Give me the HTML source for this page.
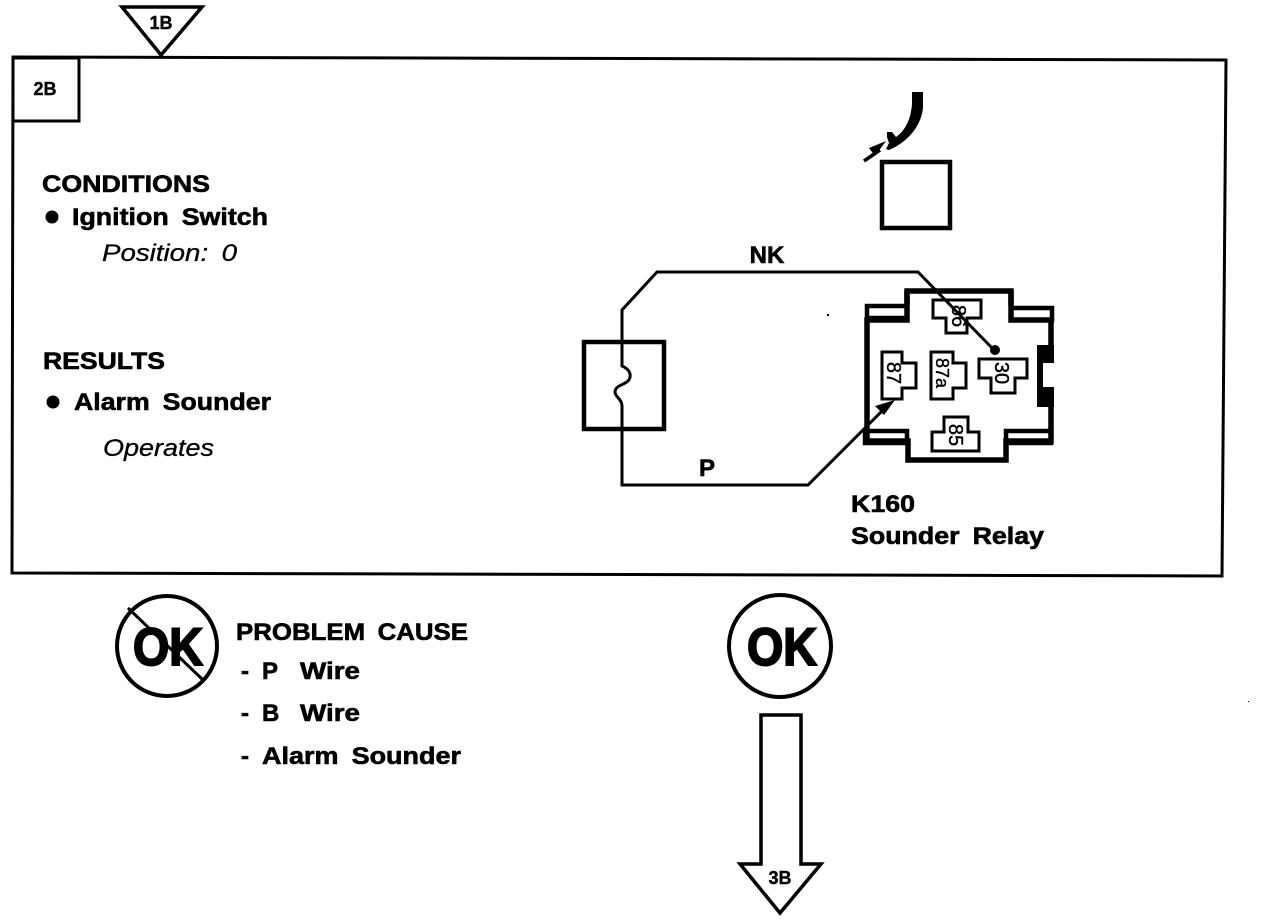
<!DOCTYPE html>
<html><head><meta charset="utf-8"><style>
html,body{margin:0;padding:0;background:#fff;width:1264px;height:922px;overflow:hidden}
svg{display:block}
text{font-family:"Liberation Sans",sans-serif;font-weight:bold;fill:#000}
.t{font-size:24px;stroke:#000;stroke-width:.6px;word-spacing:5px}
.i{font-style:italic;font-weight:normal;font-size:24px;stroke:#000;stroke-width:.3px;word-spacing:5px}
.n{font-weight:normal;font-size:20px;stroke:#000;stroke-width:.4px;text-anchor:middle;dominant-baseline:central}
.s{font-size:18px;text-anchor:middle;stroke:#000;stroke-width:.4px}
.o{font-size:53px;text-anchor:middle;stroke:#000;stroke-width:2px}
</style></head><body>
<svg width="1264" height="922" viewBox="0 0 1264 922" xmlns="http://www.w3.org/2000/svg">
<g fill="none" stroke="#000" stroke-width="3">
<path d="M122 7H202L161 55Z" stroke-width="3.5"/>
<path d="M13 57L1226 60L1222 576L12 573Z"/>
<rect x="13" y="58" width="66" height="63"/>
<rect x="882" y="162" width="68" height="66" stroke-width="4.5"/>
<rect x="584" y="342" width="80" height="87" stroke-width="4.5"/>
<path d="M622 429V485H808L890 403" stroke-width="3"/>
<path d="M622 342V310L657 272H918L994 350" stroke-width="3"/>
<path d="M622 310V366C627 368 631 372 630 377C629 385 615 384 615 392C615 397 622 399 622 406V440" stroke-width="3"/>
<path d="M864 161L880 150" stroke-width="3.5"/>
<circle cx="167" cy="646" r="50" stroke-width="4"/>
<circle cx="780" cy="646" r="51" stroke-width="4"/>
<path d="M128 608L202 679" stroke-width="3"/>
<path d="M761 715H801V864H821L780 913L740 864H761Z" stroke-width="3.5"/>
</g>
<path d="M912 92H923V108C921 126 908 142 889 150L886 149L889 143L887 137L887 132L892 132L896 137C906 130 911 118 912 104Z" fill="#000"/>
<path d="M886 141L869 148L875 156Z" fill="#000"/>
<g fill="none" stroke="#000">
<path d="M907 305V291H1011V305" stroke-width="5.5"/>
<path d="M907 291V320H867V441H908V460H1006V441H1051V320H1011V291" stroke-width="5.5"/>
<path d="M867 306H907V318H867ZM1011 308H1052V320H1011ZM865 431H907V443H865ZM1006 431H1051V443H1006Z" stroke-width="4.5"/>
<g stroke-width="3">
<path d="M933 300H981V318H967V333H946V318H933Z"/>
<path d="M882 352H902V363H916V388H902V399H882Z"/>
<path d="M931 352H953V363H966V388H953V399H931Z"/>
<path d="M979 359H1027V378H1015V393H991V378H979Z"/>
<path d="M944 417H968V432H979V451H932V432H944Z"/>
</g>
</g>
<rect x="1043" y="363" width="14" height="24" fill="#fff"/>
<path d="M1037 345H1054V363H1043V387H1054V407H1037Z" fill="#000"/>
<circle cx="995" cy="350" r="5" fill="#000"/>
<path d="M895 400L884 415L875 406Z" fill="#000"/>
<text x="161" y="29" class="s">1B</text>
<text x="45" y="95" class="s">2B</text>
<text x="42" y="192" class="t" textLength="168" lengthAdjust="spacingAndGlyphs">CONDITIONS</text>
<circle cx="52" cy="217" r="6.5"/>
<text x="72" y="225" class="t" textLength="196" lengthAdjust="spacingAndGlyphs">Ignition Switch</text>
<text x="102" y="261" class="i" textLength="135" lengthAdjust="spacingAndGlyphs">Position: 0</text>
<text x="43" y="369" class="t" textLength="122" lengthAdjust="spacingAndGlyphs">RESULTS</text>
<circle cx="53" cy="402" r="6.5"/>
<text x="74" y="410" class="t" textLength="197" lengthAdjust="spacingAndGlyphs">Alarm Sounder</text>
<text x="103" y="456" class="i" textLength="111" lengthAdjust="spacingAndGlyphs">Operates</text>
<text x="767" y="263" text-anchor="middle" class="t">NK</text>
<text x="707" y="476" text-anchor="middle" class="t">P</text>
<text x="851" y="512" class="t" textLength="64" lengthAdjust="spacingAndGlyphs">K160</text>
<text x="851" y="544" class="t" textLength="193" lengthAdjust="spacingAndGlyphs">Sounder Relay</text>
<text x="168" y="665" class="o" textLength="70" lengthAdjust="spacingAndGlyphs">OK</text>
<text x="782" y="665" class="o" textLength="70" lengthAdjust="spacingAndGlyphs">OK</text>
<text x="236" y="640" class="t" textLength="232" lengthAdjust="spacingAndGlyphs">PROBLEM CAUSE</text>
<text x="241" y="679" class="t">-</text><text x="262" y="679" class="t">P</text><text x="300" y="679" class="t" textLength="60" lengthAdjust="spacingAndGlyphs">Wire</text>
<text x="241" y="721" class="t">-</text><text x="262" y="721" class="t">B</text><text x="300" y="721" class="t" textLength="60" lengthAdjust="spacingAndGlyphs">Wire</text>
<text x="241" y="764" class="t">-</text><text x="262" y="764" class="t" textLength="199" lengthAdjust="spacingAndGlyphs">Alarm Sounder</text>
<text x="780" y="884" class="s">3B</text>
<text transform="translate(958,316) rotate(90)" class="n">86</text>
<text transform="translate(893,373) rotate(90)" class="n">87</text>
<text transform="translate(942,373) rotate(90)" class="n" style="font-size:18px">87a</text>
<text transform="translate(1001,373) rotate(90)" class="n">30</text>
<text transform="translate(955,435) rotate(90)" class="n">85</text>
<rect x="827" y="314" width="2" height="2"/>
<rect x="1248" y="701" width="1" height="1"/>
</svg>
</body></html>
